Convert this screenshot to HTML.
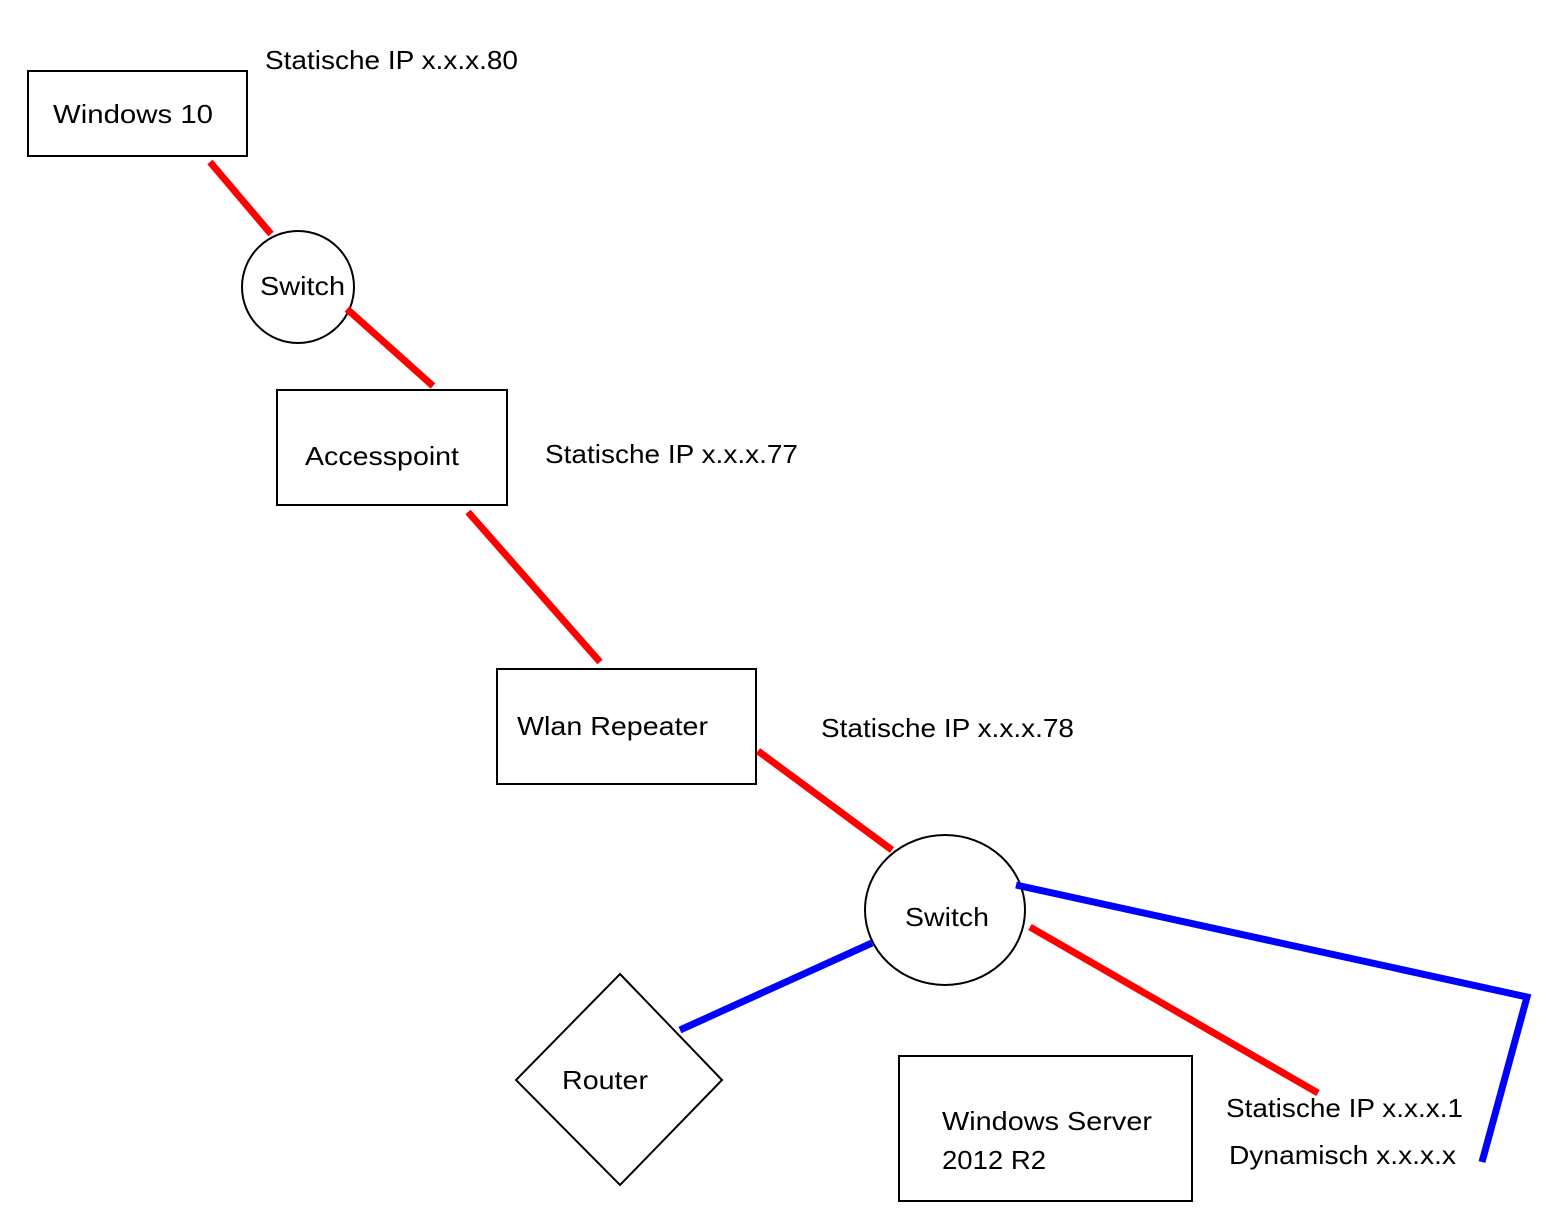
<!DOCTYPE html>
<html><head><meta charset="utf-8"><style>
html,body{margin:0;padding:0;background:#fff;}
svg{display:block;}
text{font-family:"Liberation Sans",sans-serif;font-size:26px;fill:#000;}
</style></head><body>
<svg width="1548" height="1212" viewBox="0 0 1548 1212" xmlns="http://www.w3.org/2000/svg">
<g fill="none" stroke="#000" stroke-width="2">
<rect x="28" y="71" width="219" height="85"/>
<circle cx="298" cy="287" r="56"/>
<rect x="277" y="390" width="230" height="115"/>
<rect x="497" y="669" width="259" height="115"/>
<ellipse cx="945" cy="910" rx="80" ry="75"/>
<polygon points="620,974 722,1080 620,1185 516,1080"/>
<rect x="899" y="1056" width="293" height="145"/>
</g>
<g stroke="#ff0000" stroke-width="7" fill="none">
<line x1="210" y1="162" x2="271" y2="234"/>
<line x1="347" y1="309" x2="433" y2="386"/>
<line x1="468" y1="512" x2="600" y2="662"/>
<line x1="758" y1="751" x2="892" y2="850"/>
<line x1="1030" y1="927" x2="1318" y2="1093"/>
</g>
<g stroke="#0000ff" stroke-width="7" fill="none">
<polyline points="1016,885 1527,997 1482,1162"/>
<line x1="680" y1="1030" x2="872" y2="943"/>
</g>
<text x="265" y="69" textLength="253" lengthAdjust="spacingAndGlyphs">Statische IP x.x.x.80</text>
<text x="53" y="123" textLength="160" lengthAdjust="spacingAndGlyphs">Windows 10</text>
<text x="260" y="295" textLength="85" lengthAdjust="spacingAndGlyphs">Switch</text>
<text x="305" y="465" textLength="154" lengthAdjust="spacingAndGlyphs">Accesspoint</text>
<text x="545" y="463" textLength="253" lengthAdjust="spacingAndGlyphs">Statische IP x.x.x.77</text>
<text x="517" y="735" textLength="191" lengthAdjust="spacingAndGlyphs">Wlan Repeater</text>
<text x="821" y="737" textLength="253" lengthAdjust="spacingAndGlyphs">Statische IP x.x.x.78</text>
<text x="905" y="926" textLength="84" lengthAdjust="spacingAndGlyphs">Switch</text>
<text x="562" y="1089" textLength="86" lengthAdjust="spacingAndGlyphs">Router</text>
<text x="942" y="1130" textLength="210" lengthAdjust="spacingAndGlyphs">Windows Server</text>
<text x="942" y="1169" textLength="104" lengthAdjust="spacingAndGlyphs">2012 R2</text>
<text x="1226" y="1117" textLength="237" lengthAdjust="spacingAndGlyphs">Statische IP x.x.x.1</text>
<text x="1229" y="1164" textLength="227" lengthAdjust="spacingAndGlyphs">Dynamisch x.x.x.x</text>
</svg>
</body></html>
